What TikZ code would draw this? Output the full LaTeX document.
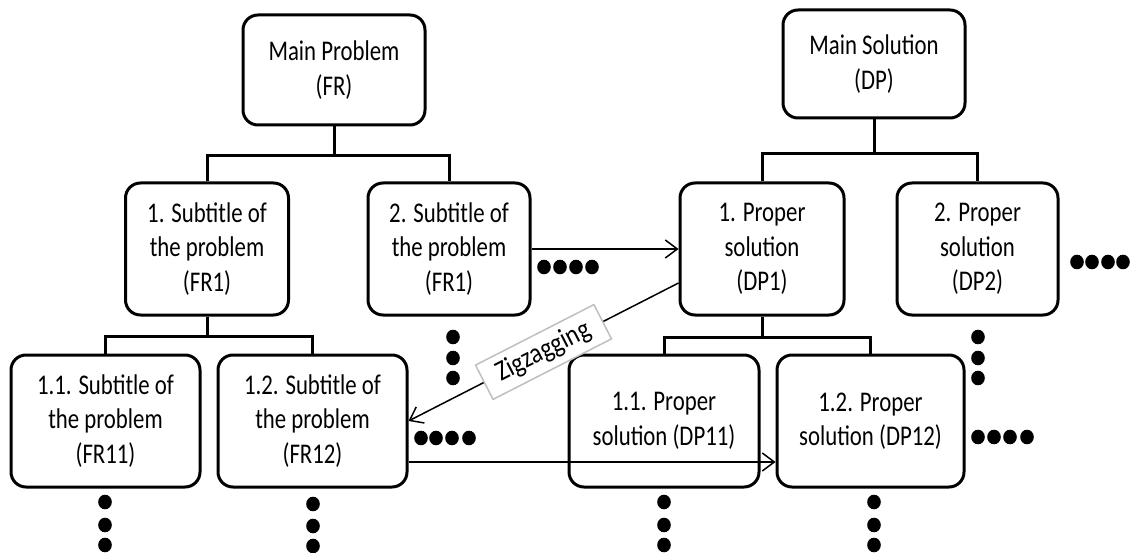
\documentclass[tikz,border=0pt]{standalone}
\usepackage{fontspec}
\setmainfont{Carlito}[FakeStretch=0.80]
\newfontfamily\zigfont{Carlito}[FakeStretch=0.86]
\usetikzlibrary{arrows.meta,calc}
\begin{document}
\begin{tikzpicture}[x=1pt,y=-1pt,
  box/.style={draw, line width=3pt, rounded corners=15pt, fill=white,
    align=center, inner sep=0pt, font=\fontsize{28.5}{34.5}\selectfont},
  lvlone/.style={box, minimum width=182pt, minimum height=110pt},
  lvltwo/.style={box, minimum width=162pt, minimum height=132pt},
  lvlthree/.style={box, minimum width=189pt, minimum height=132pt},
  tree/.style={line width=3pt},
  link/.style={line width=1.5pt,
    -{Straight Barb[length=12pt,width=18pt,line width=1.5pt]}},
  ziglabel/.style={draw=gray!50, line width=1.5pt, fill=white,
    font=\zigfont\fontsize{28.5}{34.5}\selectfont, inner xsep=15pt, inner ysep=7pt}
]
\useasboundingbox (0,0) rectangle (1132,553);

% problem side
\node[lvlone] (MP) at (334,70) {Main Problem\\(FR)};
\node[lvltwo, minimum width=163pt] (FR1) at (207,249) {1. Subtitle of\\the problem\\(FR1)};
\node[lvltwo] (FR2) at (449,249) {2. Subtitle of\\the problem\\(FR1)};
\node[lvlthree] (FR11) at (105.5,421) {1.1. Subtitle of\\the problem\\(FR11)};
\node[lvlthree] (FR12) at (312.5,421) {1.2. Subtitle of\\the problem\\(FR12)};

% solution side
\node[lvlone, minimum height=108pt] (MS) at (874,64) {Main Solution\\(DP)};
\node[lvltwo, minimum width=164pt] (DP1) at (762,249) {1. Proper\\solution\\(DP1)};
\node[lvltwo, minimum width=161pt] (DP2) at (977.5,249) {2. Proper\\solution\\(DP2)};
\node[lvlthree, minimum width=190pt] (DP11) at (664,421) {1.1. Proper\\solution (DP11)};
\node[lvlthree, minimum width=187pt] (DP12) at (870.5,421) {1.2. Proper\\solution (DP12)};

% hierarchy lines
\draw[tree] (MP.south) -- ++(0,29) coordinate (j1);
\draw[tree] (FR1.north) |- (j1) -| (FR2.north);
\draw[tree] (FR1.south) -- ++(0,20) coordinate (j3);
\draw[tree] (FR11.north) |- (j3) -| (FR12.north);
\draw[tree] (MS.south) -- ++(0,34) coordinate (j2);
\draw[tree] (DP1.north) |- (j2) -| (DP2.north);
\draw[tree] (DP1.south) -- ++(0,21) coordinate (j4);
\draw[tree] (DP11.north) |- (j4) -| (DP12.north);

% mapping between the two sides
\draw[link] (FR2.east) -- (DP1.west);
\draw[link] ($(DP1.west)+(0,34)$) -- node[sloped, ziglabel] {Zigzagging} (FR12.east);
\draw[link] ($(FR12.east)+(0,41)$) -- ($(DP12.west)+(0,41)$);

% continuation dots
\foreach \x/\y in {544/267, 560/267, 576/267, 592/267,
                   1077/262, 1092/262, 1108/262, 1123/262,
                   453/337, 453/358, 453/378,
                   978/337, 978/358, 978/378,
                   421/438, 436/438, 452/438, 469/438,
                   978/437, 994/437, 1010/437, 1027/437,
                   105/502, 105/525, 105/545,
                   313/504, 313/526, 313/546,
                   664/502, 664/525, 664/545,
                   874/502, 874/525, 874/545}
  \fill (\x,\y) ellipse [x radius=6.8pt, y radius=7.3pt];
\end{tikzpicture}
\end{document}
